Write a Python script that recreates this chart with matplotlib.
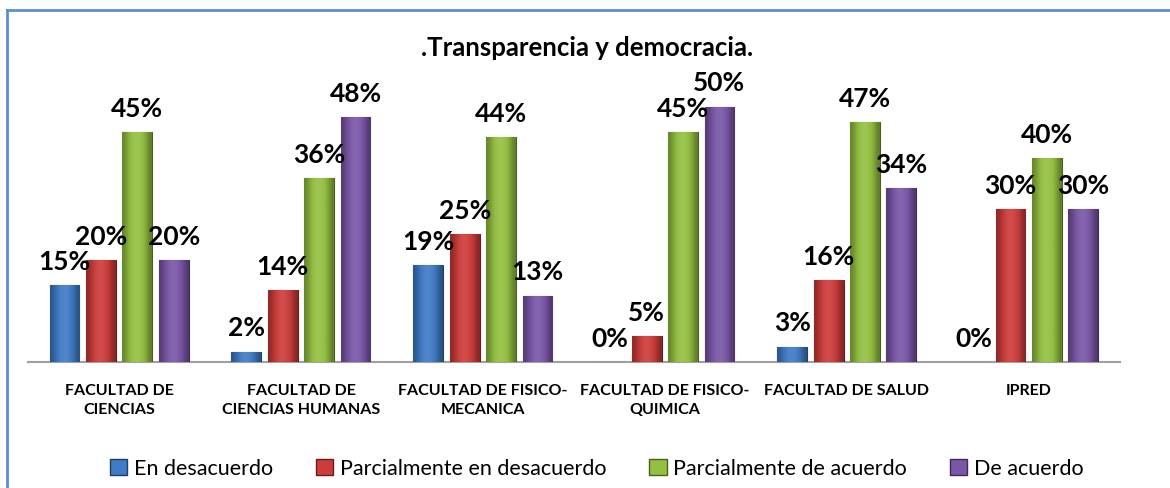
import matplotlib.pyplot as plt
import numpy as np
from matplotlib.colors import to_rgb
from matplotlib.lines import Line2D

plt.rcParams['font.family'] = ['Lato', 'DejaVu Sans']

categories = ['FACULTAD DE\nCIENCIAS', 'FACULTAD DE\nCIENCIAS HUMANAS',
              'FACULTAD DE FISICO-\nMECANICA', 'FACULTAD DE FISICO-\nQUIMICA',
              'FACULTAD DE SALUD', 'IPRED']
series_names = ['En desacuerdo', 'Parcialmente en desacuerdo',
                'Parcialmente de acuerdo', 'De acuerdo']
en_desacuerdo = [15, 2, 19, 0, 3, 0]
parcial_desacuerdo = [20, 14, 25, 5, 16, 30]
parcial_acuerdo = [45, 36, 44, 45, 47, 40]
de_acuerdo = [20, 48, 13, 50, 34, 30]
colors = ['#3F7BC6', '#CC3C3A', '#93C040', '#7A56A8']


def shade(c, f):
    r = np.array(to_rgb(c))
    if f < 1:
        return tuple(r * f)
    return tuple(r + (1 - r) * (f - 1))


def main():
    fig = plt.figure(figsize=(11.7, 4.89), dpi=100)
    ax = fig.add_axes([0.024, 0.258, 0.933, 0.626])

    # frame lines (top and left only, as in the reference crop)
    fig.add_artist(Line2D([0.006, 0.006], [0.0, 0.978], color='#5B8ED8', lw=2,
                          transform=fig.transFigure))
    fig.add_artist(Line2D([0.006, 1.0], [0.978, 0.978], color='#5B8ED8', lw=2,
                          transform=fig.transFigure))

    data = [en_desacuerdo, parcial_desacuerdo, parcial_acuerdo, de_acuerdo]
    x = np.arange(len(categories))
    step = 0.2
    width = 0.164
    for i, vals in enumerate(data):
        pos = x + (i - 1.5) * step
        bars = ax.bar(pos, vals, width, color=colors[i],
                      edgecolor=shade(colors[i], 0.5), linewidth=0.8,
                      label=series_names[i], zorder=3)
        grad = np.array([[0.7, 0.92, 1.06, 1.1, 1.04, 0.92, 0.65]])
        for b, v in zip(bars, vals):
            if v > 0:
                x0 = b.get_x()
                cols = np.array([[shade(colors[i], g) for g in grad[0]]])
                im = ax.imshow(cols, extent=[x0, x0 + width, 0, v], aspect='auto',
                               interpolation='bicubic', zorder=3.5)
                im.set_clip_path(b)
            ax.text(b.get_x() + width / 2, v + 2.4, f'{v}%', ha='center',
                    va='bottom', fontsize=19, fontweight='bold', zorder=5)

    ax.set_xlim(-0.5, len(categories) - 0.5)
    ax.set_ylim(0, 60)
    ax.set_xticks(x)
    ax.set_xticklabels(categories, fontsize=11.5, fontweight='bold',
                       linespacing=1.45)
    ax.tick_params(axis='x', length=0, pad=15)
    ax.set_yticks([])
    for s in ['top', 'right', 'left']:
        ax.spines[s].set_visible(False)
    ax.spines['bottom'].set_color('#A0A0A0')
    ax.spines['bottom'].set_linewidth(1.5)

    fig.text(0.502, 0.902, '.Transparencia y democracia.', ha='center',
             va='center', fontsize=18.5, fontweight='bold')

    handles = [plt.Rectangle((0, 0), 1, 1, facecolor=c,
                             edgecolor=shade(c, 0.5)) for c in colors]
    fig.legend(handles, series_names, loc='center', ncol=4,
               bbox_to_anchor=(0.51, 0.04), frameon=False, fontsize=15.5,
               handlelength=0.8, handleheight=0.8, handletextpad=0.3,
               columnspacing=2.0)

    fig.savefig('out.png', dpi=100)


if __name__ == '__main__':
    main()
